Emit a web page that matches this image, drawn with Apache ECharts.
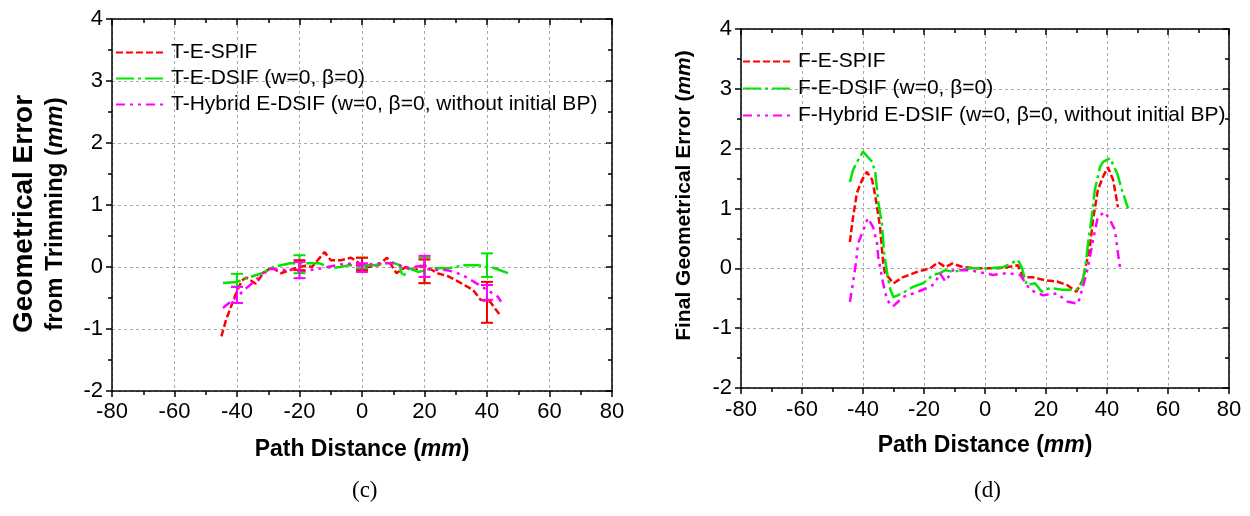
<!DOCTYPE html>
<html>
<head>
<meta charset="utf-8">
<script src="https://cdn.jsdelivr.net/npm/echarts@6/dist/echarts.min.js"></script>
<style>html,body{margin:0;padding:0;background:#fff;}#c{width:1250px;height:516px;}</style>
</head>
<body>
<div id="c"></div>
<script>
// ---- Chart (c): trimming error ----
const cNames = ['T-E-SPIF', 'T-E-DSIF (w=0, β=0)', 'T-Hybrid E-DSIF (w=0, β=0, without initial BP)'];
const cRed = [[-45,-1.12],[-43.5,-0.85],[-42,-0.65],[-40.5,-0.45],[-38.5,-0.22],[-37,-0.17],[-34,-0.27],[-32,-0.13],[-29,0.0],[-26,-0.1],[-23,-0.05],[-20,0.0],[-18,0.02],[-16,0.0],[-12,0.24],[-10,0.11],[-6.7,0.11],[-3.5,0.15],[0,0.03],[2,0.0],[5.4,0.03],[8,0.15],[11,-0.1],[14,0.0],[17,-0.05],[20,0.03],[24,-0.1],[27.6,-0.15],[31,-0.24],[35.5,-0.37],[38,-0.53],[41,-0.56],[44.5,-0.8]];
const cGreen = [[-44.5,-0.26],[-40,-0.24],[-37,-0.18],[-32,-0.1],[-28.5,0.0],[-23,0.06],[-20,0.06],[-13.6,0.06],[-10,-0.02],[-7,0.0],[-4,0.03],[1,0.03],[4,0.03],[9.5,0.08],[12,0.03],[13,-0.16],[15,-0.02],[18,-0.08],[23,-0.02],[27.6,-0.02],[33,0.03],[37,0.03],[42.5,-0.02],[46.7,-0.1]];
const cMagenta = [[-44.5,-0.66],[-42,-0.56],[-40,-0.48],[-37,-0.34],[-34,-0.21],[-31.7,-0.1],[-29.5,-0.03],[-24,-0.05],[-21,-0.02],[-20,-0.08],[-13,-0.02],[-4.8,0.06],[-1,0.02],[5.4,0.06],[10.8,0.06],[14,-0.02],[19,0.02],[22,-0.05],[26.7,-0.05],[29.8,-0.08],[34,-0.18],[36.5,-0.26],[40,-0.37],[43.5,-0.48],[44.5,-0.56]];
// error bars: [x, low, high]
const cRedErr = [[-20,-0.05,0.11],[0,-0.05,0.15],[20,-0.26,0.12],[40,-0.9,-0.24]];
const cGreenErr = [[-40,-0.32,-0.11],[-20,-0.1,0.19],[0,-0.02,0.15],[20,-0.26,0.15],[40,-0.16,0.22]];
const cMagentaErr = [[-40,-0.58,-0.32],[-20,-0.18,0.08],[0,-0.08,0.06],[20,-0.16,0.18],[40,-0.53,-0.29]];

// ---- Chart (d): final error ----
const dNames = ['F-E-SPIF', 'F-E-DSIF (w=0, β=0)', 'F-Hybrid E-DSIF (w=0, β=0, without initial BP)'];
const dRed = [[-44.3,0.44],[-43.3,0.84],[-42,1.26],[-40.3,1.48],[-38.7,1.61],[-37,1.48],[-36,1.22],[-35.4,1.02],[-34.4,0.69],[-33.4,0.1],[-32.8,-0.08],[-30,-0.25],[-27,-0.15],[-22.3,-0.06],[-18,0.0],[-15.4,0.1],[-13,0.02],[-10.8,0.08],[-7.2,0.02],[-2.6,0.0],[3.9,0.0],[7.5,0.02],[10.8,0.05],[12.5,-0.15],[15.7,-0.15],[19.7,-0.2],[23.6,-0.22],[26.9,-0.28],[30,-0.39],[32,-0.2],[34.4,0.36],[35.4,0.81],[37,1.31],[38.7,1.53],[40.3,1.69],[42,1.48],[43.6,1.02]];
const dGreen = [[-44.3,1.44],[-43.3,1.64],[-41.6,1.81],[-40,1.95],[-37,1.78],[-36,1.61],[-35,1.11],[-33.8,0.75],[-33.1,0.27],[-32.1,-0.08],[-31,-0.36],[-30,-0.48],[-26.9,-0.41],[-23.6,-0.31],[-20.3,-0.25],[-17,-0.11],[-14.8,-0.08],[-13,-0.03],[-10.5,-0.06],[-4.9,0.0],[0.6,0.0],[6,0.02],[10.8,0.14],[12,0.02],[13.7,-0.28],[16.4,-0.25],[18.6,-0.39],[21.3,-0.33],[25.6,-0.36],[30,-0.36],[31.8,-0.25],[32.8,-0.03],[33.8,0.42],[35,0.86],[36,1.31],[37.7,1.69],[38.7,1.78],[41,1.84],[43.3,1.59],[44.9,1.31],[46.9,1.0]];
const dMagenta = [[-44.3,-0.56],[-43.3,-0.25],[-42.3,0.1],[-41.6,0.42],[-40.3,0.59],[-38.4,0.84],[-36.7,0.69],[-35.4,0.42],[-35,0.19],[-33.4,-0.25],[-32.1,-0.53],[-30.2,-0.64],[-26.9,-0.48],[-22,-0.39],[-18,-0.31],[-16.4,-0.25],[-14.8,-0.08],[-13,-0.22],[-10.5,-0.03],[-4.9,-0.03],[2.6,-0.11],[7.2,-0.08],[11.5,-0.11],[14.8,-0.36],[19,-0.45],[23.6,-0.42],[27.2,-0.56],[30.5,-0.59],[32.1,-0.31],[33.8,0.02],[35.4,0.47],[37,0.86],[39.3,0.94],[41,0.81],[42.6,0.64],[43.6,0.25],[44.3,0.0]];

const xTicks = [-80,-60,-40,-20,0,20,40,60,80];
const yTicks = [-2,-1,0,1,2,3,4];

const RED = '#ff0000', GREEN = '#00e600', MAG = '#ff00ff';
const dashRed = [7,3], dashGreen = [18,4,3,4], dashMag = [9,5,3,5,3,5];
const FONT = 'Arial, "Liberation Sans", sans-serif';

function xBottom(gi, name, gap, lm) {
  return {gridIndex: gi, type: 'value', min: xTicks[0], max: xTicks[xTicks.length-1], interval: 20, position: 'bottom',
    name: name, nameLocation: 'middle', nameGap: gap,
    nameTextStyle: {fontFamily: FONT, fontWeight: 'bold', fontSize: 23, color: '#000',
      rich: {i: {fontFamily: FONT, fontWeight: 'bold', fontStyle: 'italic', fontSize: 23, color: '#000'}}},
    axisLine: {onZero: false, lineStyle: {color: '#000', width: 1.5}},
    axisTick: {inside: false, length: 6, lineStyle: {color: '#000', width: 1.5}},
    minorTick: {show: true, splitNumber: 2, length: 4, lineStyle: {color: '#000', width: 1.5}},
    axisLabel: {fontFamily: FONT, fontSize: 22, color: '#000', margin: lm},
    splitLine: {show: true, lineStyle: {color: '#aaa', type: [3,3], width: 1}}};
}
function xTop(gi) {
  return {gridIndex: gi, type: 'value', min: xTicks[0], max: xTicks[xTicks.length-1], interval: 20, position: 'top',
    axisLine: {onZero: false, lineStyle: {color: '#000', width: 1.5}},
    axisTick: {inside: true, length: 6, lineStyle: {color: '#000', width: 1.5}},
    minorTick: {show: true, splitNumber: 2, length: 4, lineStyle: {color: '#000', width: 1.5}},
    axisLabel: {show: false}, splitLine: {show: false}};
}
function yLeft(gi, name, gap, nts) {
  return {gridIndex: gi, type: 'value', min: yTicks[0], max: yTicks[yTicks.length-1], interval: 1, position: 'left',
    name: name, nameLocation: 'middle', nameGap: gap, nameRotate: 90,
    nameTextStyle: nts,
    axisLine: {onZero: false, lineStyle: {color: '#000', width: 1.5}},
    axisTick: {inside: false, length: 6, lineStyle: {color: '#000', width: 1.5}},
    minorTick: {show: true, splitNumber: 2, length: 4, lineStyle: {color: '#000', width: 1.5}},
    axisLabel: {fontFamily: FONT, fontSize: 22, color: '#000', margin: 9},
    splitLine: {show: true, lineStyle: {color: '#aaa', type: [3,3], width: 1}}};
}
function yRight(gi) {
  return {gridIndex: gi, type: 'value', min: yTicks[0], max: yTicks[yTicks.length-1], interval: 1, position: 'right',
    axisLine: {onZero: false, lineStyle: {color: '#000', width: 1.5}},
    axisTick: {inside: true, length: 6, lineStyle: {color: '#000', width: 1.5}},
    minorTick: {show: true, splitNumber: 2, length: 4, lineStyle: {color: '#000', width: 1.5}},
    axisLabel: {show: false}, splitLine: {show: false}};
}
function lineSeries(name, data, color, dash, xi, yi) {
  return {name: name, type: 'line', data: data, xAxisIndex: xi, yAxisIndex: yi, symbol: 'none', smooth: false,
    lineStyle: {color: color, width: 2.5, type: dash}, itemStyle: {color: color}, z: 3};
}
function errSeries(data, color, xi, yi) {
  return {type: 'custom', data: data, xAxisIndex: xi, yAxisIndex: yi, z: 4,
    encode: {x: 0, y: [1, 2]},
    renderItem: function (params, api) {
      const x = api.value(0), lo = api.value(1), hi = api.value(2);
      const p1 = api.coord([x, hi]), p2 = api.coord([x, lo]);
      const w = 6;
      const st = {stroke: color, lineWidth: 2};
      return {type: 'group', children: [
        {type: 'line', shape: {x1: p1[0], y1: p1[1], x2: p2[0], y2: p2[1]}, style: st},
        {type: 'line', shape: {x1: p1[0]-w, y1: p1[1], x2: p1[0]+w, y2: p1[1]}, style: st},
        {type: 'line', shape: {x1: p2[0]-w, y1: p2[1], x2: p2[0]+w, y2: p2[1]}, style: st}
      ]};
    }};
}
function legend(names, left, top, gap) {
  return {data: names, orient: 'vertical', left: left, top: top, itemWidth: 50, itemHeight: 12, itemGap: gap,
    textStyle: {fontFamily: FONT, fontSize: 21, color: '#000'}, itemStyle: {opacity: 0}, padding: 0};
}

const leftTitleStyle = {fontFamily: FONT, fontWeight: 'bold', color: '#000', padding: [0, 18, 0, 0],
  rich: {
    a: {fontFamily: FONT, fontWeight: 'bold', fontSize: 28, lineHeight: 30, color: '#000'},
    b: {fontFamily: FONT, fontWeight: 'bold', fontSize: 24, lineHeight: 32, color: '#000'},
    bi: {fontFamily: FONT, fontWeight: 'bold', fontStyle: 'italic', fontSize: 24, lineHeight: 32, color: '#000'}
  }};
const rightTitleStyle = {fontFamily: FONT, fontWeight: 'bold', fontSize: 21, color: '#000', padding: [0, 0, 0, 26],
  rich: {i: {fontFamily: FONT, fontWeight: 'bold', fontStyle: 'italic', fontSize: 21, color: '#000'}}};

const chart = echarts.init(document.getElementById('c'), null, {renderer: 'canvas'});
chart.setOption({
  backgroundColor: '#fff',
  animation: false,
  grid: [
    {left: 112, top: 19, width: 500, height: 372},
    {left: 741, top: 29, width: 488, height: 359}
  ],
  xAxis: [xBottom(0, 'Path Distance ({i|mm})', 47, 10), xTop(0), xBottom(1, 'Path Distance ({i|mm})', 46, 11), xTop(1)],
  yAxis: [yLeft(0, '{a|Geometrical Error}\n{b|from Trimming (}{bi|mm}{b|)}', 41, leftTitleStyle), yRight(0),
          yLeft(1, 'Final Geometrical Error ({i|mm})', 46, rightTitleStyle), yRight(1)],
  legend: [legend(cNames, 115, 42, 5), legend(dNames, 742, 51, 6)],
  series: [
    lineSeries(cNames[0], cRed, RED, dashRed, 0, 0),
    lineSeries(cNames[1], cGreen, GREEN, dashGreen, 0, 0),
    lineSeries(cNames[2], cMagenta, MAG, dashMag, 0, 0),
    errSeries(cGreenErr, GREEN, 0, 0),
    errSeries(cRedErr, RED, 0, 0),
    errSeries(cMagentaErr, MAG, 0, 0),
    lineSeries(dNames[0], dRed, RED, dashRed, 2, 2),
    lineSeries(dNames[1], dGreen, GREEN, dashGreen, 2, 2),
    lineSeries(dNames[2], dMagenta, MAG, dashMag, 2, 2)
  ],
  graphic: [
    {type: 'text', left: 352, top: 479, style: {text: '(c)', fontFamily: '"Liberation Serif", "Times New Roman", serif', fontSize: 23, fill: '#000'}},
    {type: 'text', left: 974, top: 479, style: {text: '(d)', fontFamily: '"Liberation Serif", "Times New Roman", serif', fontSize: 23, fill: '#000'}}
  ]
});
</script>
</body>
</html>
